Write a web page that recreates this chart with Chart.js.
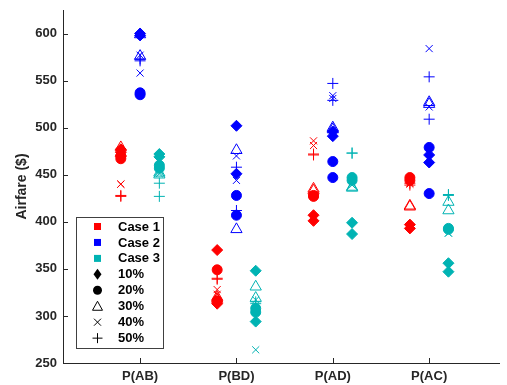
<!DOCTYPE html>
<html>
<head>
<meta charset="utf-8">
<script src="https://cdn.jsdelivr.net/npm/chart.js@4.4.1/dist/chart.umd.min.js"></script>
<style>
  html, body { margin: 0; padding: 0; background: #ffffff; }
  canvas { display: block; }
</style>
</head>
<body>
<canvas id="c" width="507" height="385" style="width:507px;height:385px"></canvas>
<script>
// ---- data ----
const categories = ['P(AB)', 'P(BD)', 'P(AD)', 'P(AC)'];
const cases = ['Case 1', 'Case 2', 'Case 3'];
const levels = ['10%', '20%', '30%', '40%', '50%'];
const yTicks = [250, 300, 350, 400, 450, 500, 550, 600];

// values per category: [P(AB), P(BD), P(AD), P(AC)]
const case1_10 = [[477, 474], [370, 313], [407, 401], [397, 393]];
const case1_20 = [[470, 467], [349, 316], [427, 428], [447, 444]];
const case1_30 = [[479, 473], [320, 318], [435, 433], [417, 416]];
const case1_40 = [[440, 440], [328, 323], [486, 481], [440, 441]];
const case1_50 = [[428, 427], [340, 339], [471, 472], [441, 439]];

const case2_10 = [[600, 598], [502, 451], [496, 491], [471, 463]];
const case2_20 = [[537, 535], [428, 407], [464, 447], [479, 430]];
const case2_30 = [[599, 576], [476, 392], [500, 498], [527, 525]];
const case2_40 = [[577, 558], [470, 444], [534, 531], [584, 522]];
const case2_50 = [[573, 571], [458, 412], [547, 529], [554, 509]];

const case3_10 = [[472, 469], [348, 294], [399, 387], [356, 347]];
const case3_20 = [[460, 457], [308, 304], [447, 444], [393, 392]];
const case3_30 = [[452, 450], [331, 319], [437, 436], [421, 412]];
const case3_40 = [[453, 451], [317, 264], [441, 439], [388, 388]];
const case3_50 = [[441, 427], [315, 313], [473, 473], [429, 428]];

const caseValues = [
  [case1_10, case1_20, case1_30, case1_40, case1_50],
  [case2_10, case2_20, case2_30, case2_40, case2_50],
  [case3_10, case3_20, case3_30, case3_40, case3_50]
];

// ---- styles ----
const caseColors = ['#ff0000', '#0000ff', '#00b3b3'];
const caseOffsets = [-0.2, 0, 0.2];
const levelStyles = [
  { pointStyle: 'rectRot', radius: 5.5, filled: true },
  { pointStyle: 'circle', radius: 5, filled: true },
  { pointStyle: 'triangle', radius: 6.5, filled: false },
  { pointStyle: 'crossRot', radius: 5, filled: false },
  { pointStyle: 'cross', radius: 5.5, filled: false }
];

const datasets = [];
caseValues.forEach((levelArrs, ci) => {
  levelArrs.forEach((catArr, li) => {
    const pts = [];
    catArr.forEach((vals, k) => {
      vals.forEach(v => pts.push({ x: k + 1 + caseOffsets[ci], y: v }));
    });
    const st = levelStyles[li];
    datasets.push({
      label: cases[ci] + ' ' + levels[li],
      data: pts,
      pointStyle: st.pointStyle,
      pointRadius: st.radius,
      pointHoverRadius: st.radius,
      pointBorderWidth: 1,
      pointBorderColor: caseColors[ci],
      pointBackgroundColor: st.filled ? caseColors[ci] : 'rgba(0,0,0,0)',
      showLine: false
    });
  });
});

const FONT = "'Liberation Sans', Arial, Helvetica, sans-serif";
const AXIS_COLOR = '#262626';

const extras = {
  id: 'extras',
  afterDraw(chart) {
    const ctx = chart.ctx;
    const xs = chart.scales.x, ys = chart.scales.y;
    const ca = chart.chartArea;
    ctx.save();
    // inward tick marks
    ctx.strokeStyle = AXIS_COLOR;
    ctx.lineWidth = 1;
    ctx.beginPath();
    yTicks.forEach(v => {
      const py = Math.round(ys.getPixelForValue(v)) + 0.5;
      ctx.moveTo(ca.left, py);
      ctx.lineTo(ca.left + 5, py);
    });
    categories.forEach((c, i) => {
      const px = Math.round(xs.getPixelForValue(i + 1)) + 0.5;
      ctx.moveTo(px, ca.bottom);
      ctx.lineTo(px, ca.bottom - 5);
    });
    ctx.stroke();

    // legend box
    const bx = 76.5, by = 217.5, bw = 87, bh = 131;
    ctx.fillStyle = '#ffffff';
    ctx.fillRect(bx, by, bw, bh);
    ctx.strokeStyle = '#404040';
    ctx.lineWidth = 1;
    ctx.strokeRect(bx, by, bw, bh);

    const labels = cases.concat(levels);
    const mx = 97.5, tx = 118, y0 = 226.5, dy = 15.95;
    ctx.font = 'bold 13px ' + FONT;
    ctx.textBaseline = 'middle';
    ctx.textAlign = 'left';
    labels.forEach((lab, i) => {
      const y = y0 + i * dy;
      if (i < cases.length) {
        ctx.fillStyle = caseColors[i];
        ctx.fillRect(mx - 3.5, y - 3.5, 7, 7);
      } else {
        const li = i - cases.length;
        ctx.fillStyle = '#000';
        ctx.strokeStyle = '#000';
        ctx.lineWidth = 1;
        ctx.beginPath();
        if (li === 0) {
          ctx.moveTo(mx, y - 5.5); ctx.lineTo(mx + 4, y); ctx.lineTo(mx, y + 5.5); ctx.lineTo(mx - 4, y); ctx.closePath(); ctx.fill();
        } else if (li === 1) {
          ctx.arc(mx, y, 4.5, 0, Math.PI * 2); ctx.fill();
        } else if (li === 2) {
          ctx.moveTo(mx, y - 5); ctx.lineTo(mx + 5, y + 4); ctx.lineTo(mx - 5, y + 4); ctx.closePath(); ctx.stroke();
        } else if (li === 3) {
          ctx.moveTo(mx - 3.5, y - 3.5); ctx.lineTo(mx + 3.5, y + 3.5);
          ctx.moveTo(mx + 3.5, y - 3.5); ctx.lineTo(mx - 3.5, y + 3.5); ctx.stroke();
        } else {
          ctx.moveTo(mx - 5, y); ctx.lineTo(mx + 5, y);
          ctx.moveTo(mx, y - 5); ctx.lineTo(mx, y + 5); ctx.stroke();
        }
      }
      ctx.fillStyle = '#000';
      ctx.fillText(lab, tx, y + 0.5);
    });
    ctx.restore();
  }
};

new Chart(document.getElementById('c'), {
  type: 'scatter',
  data: { datasets },
  options: {
    responsive: false,
    animation: false,
    devicePixelRatio: 1,
    layout: { padding: { top: 10, right: 0, left: 0, bottom: 0 } },
    plugins: { legend: { display: false }, tooltip: { enabled: false } },
    scales: {
      x: {
        type: 'linear',
        min: 0.2,
        max: 4.73,
        grid: { display: false, drawTicks: false },
        border: { display: true, color: AXIS_COLOR, width: 1 },
        afterBuildTicks: s => { s.ticks = categories.map((c, i) => ({ value: i + 1 })); },
        afterFit: s => { s.height = 22; s.paddingLeft = 0; s.paddingRight = 0; },
        ticks: {
          padding: 6,
          color: AXIS_COLOR,
          font: { family: FONT, size: 13, weight: 'bold' },
          callback: v => categories[v - 1],
          maxRotation: 0,
          autoSkip: false
        }
      },
      y: {
        min: 250,
        max: 625,
        grid: { display: false, drawTicks: false },
        border: { display: true, color: AXIS_COLOR, width: 1 },
        afterBuildTicks: s => { s.ticks = yTicks.map(v => ({ value: v })); },
        afterFit: s => { s.width = 63; s.paddingTop = 0; s.paddingBottom = 0; },
        title: {
          display: true,
          text: 'Airfare ($)',
          color: AXIS_COLOR,
          font: { family: FONT, size: 14, weight: 'bold' },
          padding: { top: 14, bottom: 0 }
        },
        ticks: {
          padding: 6,
          color: AXIS_COLOR,
          font: { family: FONT, size: 13, weight: 'bold' }
        }
      }
    }
  },
  plugins: [extras]
});
</script>
</body>
</html>
